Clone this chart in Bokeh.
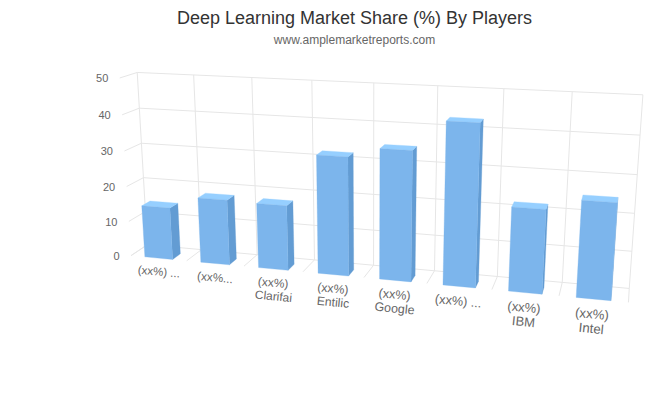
import math
from bokeh.plotting import figure
from bokeh.models import Range1d, ColumnDataSource
from bokeh.core.properties import value
from bokeh.embed import file_html
from bokeh.resources import INLINE

# ---- data
title_text = "Deep Learning Market Share (%) By Players"
subtitle_text = "www.amplemarketreports.com"
share_labels = ["(xx%) ...", "(xx%...", "(xx%)", "(xx%)", "(xx%)", "(xx%) ...", "(xx%)", "(xx%)"]
player_names = ["", "", "Clarifai", "Entilic", "Google", "", "IBM", "Intel"]
shares = [14.8, 18.3, 18.0, 32.3, 35.0, 43.0, 22.2, 25.2]
y_ticks = [0, 10, 20, 30, 40, 50]
y_max = 50

# ---- 3D view (Highcharts-like perspective)
ALPHA, BETA = 14.94, 15.04
DEPTH, VIEW = 38.46, 1015.0
LEFT, TOP, WIDTH, HEIGHT = 104.89, 82.73, 526.95, 195.28
BAR_PAD, BAR_DEPTH = 0.25, 0.5
FONT = "Liberation Sans"
GRID, LABEL = "#e6e6e6", "#666666"
FRONT, SIDE, TOPC = "#7cb5ec", "#639cd3", "#96cfff"
_a, _b = math.radians(ALPHA), math.radians(-BETA)


def project(cat, val, z):
    """category position, axis value, depth fraction (0 front, 1 back) -> page px"""
    x = LEFT + WIDTH * cat / len(shares)
    y = TOP + HEIGHT * (1 - val / y_max)
    zz = z * DEPTH
    ox, oy, oz = LEFT + WIDTH / 2, TOP + HEIGHT / 2, DEPTH / 2
    dx, dy, dz = x - ox, y - oy, zz - oz
    xr = math.cos(_b) * dx - math.sin(_b) * dz
    yr = -math.sin(_a) * math.sin(_b) * dx + math.cos(_a) * dy - math.cos(_b) * math.sin(_a) * dz
    zr = math.cos(_a) * math.sin(_b) * dx + math.sin(_a) * dy + math.cos(_a) * math.cos(_b) * dz
    s = VIEW / (zr + oz + VIEW)
    return xr * s + ox, yr * s + oy


p = figure(width=644, height=384, output_backend="svg", toolbar_location=None,
           x_range=Range1d(0, 644), y_range=Range1d(384, 0),
           x_axis_type=None, y_axis_type=None, min_border=0,
           outline_line_color=None, background_fill_color="white")
p.grid.visible = False

# ---- walls and floor grid
gx, gy = [], []


def seg(a, b):
    pa, pb = project(*a), project(*b)
    gx.append([pa[0], pb[0]])
    gy.append([pa[1], pb[1]])


for t in y_ticks:
    seg((0, t, 0), (0, t, 1))
    seg((0, t, 1), (len(shares), t, 1))
for i in range(len(shares) + 1):
    seg((i, 0, 1), (i, y_max, 1))
    seg((i, 0, 0), (i, 0, 1))
p.multi_line(gx, gy, line_color=GRID, line_width=1)


# ---- bars
def faces(i, v):
    c0, c1 = i + BAR_PAD, i + 1 - BAR_PAD
    return ([(c1, 0, 0), (c1, 0, BAR_DEPTH), (c1, v, BAR_DEPTH), (c1, v, 0)],
            [(c0, v, 0), (c1, v, 0), (c1, v, BAR_DEPTH), (c0, v, BAR_DEPTH)],
            [(c0, 0, 0), (c1, 0, 0), (c1, v, 0), (c0, v, 0)])


for i, v in enumerate(shares):
    for face, colour in zip(faces(i, v), (SIDE, TOPC, FRONT)):
        pts = [project(*f) for f in face]
        p.patch([q[0] for q in pts], [q[1] for q in pts], fill_color=colour, line_color=colour, line_width=0.3)

# ---- category labels
LINE1, LINE2 = -3.95, -7.85
lx, ly, lt, ls, la = [], [], [], [], []
for i in range(len(shares)):
    for txt, off in ((share_labels[i], LINE1), (player_names[i], LINE2)):
        if not txt:
            continue
        a, b = project(i, off, 0), project(i + 1, off, 0)
        m = project(i + 0.5, off, 0)
        cw = math.hypot(b[0] - a[0], b[1] - a[1])
        lx.append(m[0] - 0.5); ly.append(m[1]); lt.append(txt)
        ls.append(f"{4.35 + 0.129 * cw:.2f}px")
        la.append(-math.atan2(b[1] - a[1], b[0] - a[0]))
p.text("x", "y", "t", angle="a", text_font_size="s", source=ColumnDataSource(dict(x=lx, y=ly, t=lt, s=ls, a=la)),
       text_font=value(FONT), text_color=LABEL, text_align="center", text_baseline="middle")

# ---- value labels
tx, ty = zip(*[project(0, t, 0) for t in y_ticks])
p.text([x - 11.5 for x in tx], [y + 0.5 for y in ty], [str(t) for t in y_ticks], text_font=value(FONT),
       text_font_size="11px", text_color=LABEL, text_align="right", text_baseline="middle")

# ---- titles
p.text([354], [17.3], [title_text], text_font=value(FONT), text_font_size="18px", text_color="#333333",
       text_align="center", text_baseline="middle")
p.text([354], [39.5], [subtitle_text], text_font=value(FONT), text_font_size="12px", text_color=LABEL,
       text_align="center", text_baseline="middle")

open("out.html", "w").write(file_html(p, INLINE))
